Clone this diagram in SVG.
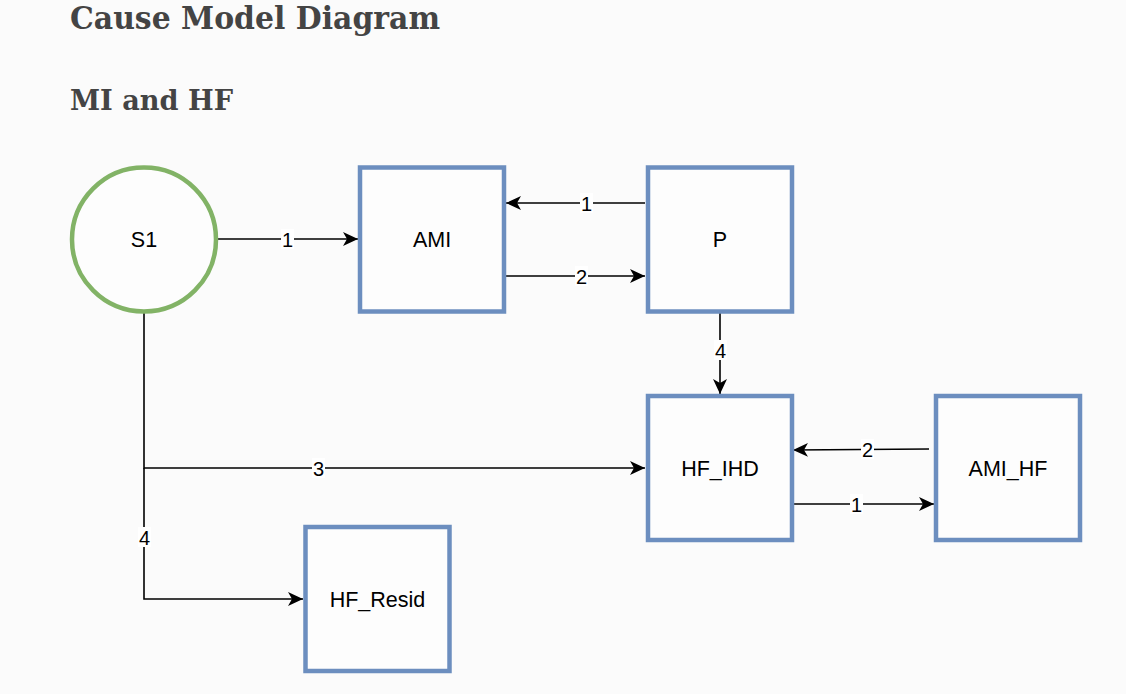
<svg xmlns="http://www.w3.org/2000/svg" width="1126" height="694" viewBox="0 0 1126 694">
<defs>
<style>
.bg{fill:#fbfbfb}
.title{font-family:"DejaVu Serif","Liberation Serif",serif;font-weight:bold;fill:#444444}
.box{fill:#fdfdfd;stroke:#6c8ebf;stroke-width:4.5}
.circ{fill:#fdfdfd;stroke:#82b366;stroke-width:4.5}
.nl{font-family:"Liberation Sans",Arial,sans-serif;font-size:21.5px;fill:#000;text-anchor:middle}
.edge{fill:none;stroke:#000;stroke-width:1.6}
.lbg{fill:#ffffff}
.el{font-family:"Liberation Sans",Arial,sans-serif;font-size:20px;fill:#000;text-anchor:middle}
</style>
<marker id="arr" markerUnits="userSpaceOnUse" markerWidth="18" markerHeight="16" refX="15" refY="7" orient="auto">
<path d="M0,0 L15,7 L0,14 L4,7 Z" fill="#000"/>
</marker>
</defs>
<rect class="bg" x="0" y="0" width="1126" height="694"/>
<text class="title" x="70" y="29" font-size="32" textLength="370" lengthAdjust="spacingAndGlyphs">Cause Model Diagram</text>
<text class="title" x="70" y="110" font-size="28" textLength="163" lengthAdjust="spacingAndGlyphs">MI and HF</text>

<g id="connectors">
<path class="edge" d="M216,239 L358,239" marker-end="url(#arr)"/>
<path class="edge" d="M645,203 L506,203" marker-end="url(#arr)"/>
<path class="edge" d="M506,276 L645,276" marker-end="url(#arr)"/>
<path class="edge" d="M720,313 L720,394" marker-end="url(#arr)"/>
<path class="edge" d="M144,311 L144,468 L645,468" marker-end="url(#arr)"/>
<path class="edge" d="M144,468 L144,599 L303,599" marker-end="url(#arr)"/>
<path class="edge" d="M929,449 L793,450" marker-end="url(#arr)"/>
<path class="edge" d="M792,504 L934,504" marker-end="url(#arr)"/>
<rect class="lbg" x="281" y="229" width="13" height="20"/>
<text class="el" x="287.5" y="246.5">1</text>
<rect class="lbg" x="580" y="193" width="13" height="20"/>
<text class="el" x="586.5" y="210.5">1</text>
<rect class="lbg" x="575" y="266" width="13" height="20"/>
<text class="el" x="581.5" y="283.5">2</text>
<rect class="lbg" x="714" y="340" width="13" height="20"/>
<text class="el" x="720.5" y="357.5">4</text>
<rect class="lbg" x="312" y="458" width="13" height="20"/>
<text class="el" x="318.5" y="475.5">3</text>
<rect class="lbg" x="138" y="527" width="13" height="20"/>
<text class="el" x="144.5" y="544.5">4</text>
<rect class="lbg" x="861" y="439" width="13" height="20"/>
<text class="el" x="867.5" y="456.5">2</text>
<rect class="lbg" x="850" y="494" width="13" height="20"/>
<text class="el" x="856.5" y="511.5">1</text>
</g>

<g id="S1">
<circle class="circ" cx="144" cy="239.5" r="72"/>
<text class="nl" x="144" y="247">S1</text>
</g>
<g id="AMI">
<rect class="box" x="360" y="167.5" width="144" height="144"/>
<text class="nl" x="432" y="247">AMI</text>
</g>
<g id="P">
<rect class="box" x="648" y="167.5" width="144" height="144"/>
<text class="nl" x="720" y="247">P</text>
</g>
<g id="HF_IHD">
<rect class="box" x="648" y="396" width="144" height="144"/>
<text class="nl" x="720" y="475.5">HF_IHD</text>
</g>
<g id="AMI_HF">
<rect class="box" x="936" y="396" width="144" height="144"/>
<text class="nl" x="1008" y="475.5">AMI_HF</text>
</g>
<g id="HF_Resid">
<rect class="box" x="305.5" y="527" width="144" height="144"/>
<text class="nl" x="377.5" y="606.5">HF_Resid</text>
</g>
</svg>
